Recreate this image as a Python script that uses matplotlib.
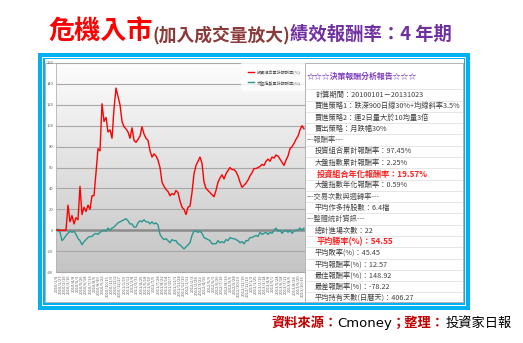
import matplotlib
matplotlib.use("Agg")
import matplotlib.pyplot as plt
from matplotlib.patches import Rectangle
import numpy as np
import pandas as pd

plt.rcParams['font.family'] = ['Noto Sans CJK TC', 'DejaVu Sans']

# cumulative return (%) of the portfolio and of the index, 2010/01/04 ~ 2013/10/23
port = [0, 0, 0, 0, 0, 0, 24, 8, 14, 6, 12, 10, 42, 15, 22, 18, 24, 20, 33, 33,
        55, 78, 76, 121, 104, 108, 94, 96, 88, 116, 136, 128, 120, 104, 99, 97, 94, 88, 98, 86,
        84, 87, 90, 99, 92, 88, 86, 76, 70, 73, 71, 67, 60, 46, 42, 39, 37, 33, 35, 34,
        38, 36, 28, 22, 20, 15, 22, 23, 36, 54, 62, 66, 70, 64, 46, 40, 38, 36, 34, 32,
        38, 46, 50, 53, 49, 54, 57, 60, 58, 58, 56, 52, 46, 41, 43, 45, 48, 52, 55, 59,
        59, 60, 61, 63, 62, 66, 68, 66, 70, 69, 72, 71, 68, 65, 62, 67, 71, 78, 80, 83,
        87, 90, 96, 100, 97]
index = [0, 1, -2, -10, -8, -5, -3, -1, -2, -1, -4, -8, -10, -14, -11, -9, -7, -6, -6, -4,
         -3, -4, -2, -1, 0, -1, 2, 0, 2, 3, 5, 7, 8, 9, 10, 11, 9, 6, 6, 3,
         3, 7, 9, 8, 10, 8, 8, 6, 8, 6, 7, 5, -4, -7, -9, -8, -10, -12, -9, -10,
         -10, -13, -14, -16, -18, -16, -14, -12, -5, -1, -1, -2, -1, -3, -7, -8, -9, -10, -13, -13,
         -13, -10, -12, -11, -12, -9, -10, -7, -8, -8, -9, -10, -12, -11, -13, -10, -10, -7, -7, -6,
         -5, -6, -2, -4, -3, -2, -4, -2, -3, 0, 2, -1, 0, -3, -1, 0, -2, 0, -3, -1,
         0, 0, 2, 0, 2]
yticks = [160, 140, 120, 100, 80, 60, 40, 20, 0, -20, -40]
legend_labels = ['投資組合累計報酬率(%)', '大盤指數累計報酬率(%)']

report_title = '☆☆☆決策報酬分析報告☆☆☆'
report_rows = [
    ('計算期間：20100101－20131023', 'n'),
    ('買進策略1：跌深900日線30%+均線斜率3.5%', 'n'),
    ('買進策略2：連2日量大於10均量3倍', 'n'),
    ('賣出策略：月跌幅30%', 'n'),
    ('---報酬率---', 's'),
    ('投資組合累計報酬率：97.45%', 'n'),
    ('大盤指數累計報酬率：2.25%', 'n'),
    ('投資組合年化報酬率：19.57%', 'h'),
    ('大盤指數年化報酬率：0.59%', 'n'),
    ('---交易次數與週轉率---', 's'),
    ('平均作多持股數：6.4檔', 'n'),
    ('---整體統計資訊---', 's'),
    ('總計進場次數：22', 'n'),
    ('平均勝率(%)：54.55', 'h'),
    ('平均敗率(%)：45.45', 'n'),
    ('平均報酬率(%)：12.57', 'n'),
    ('最佳報酬率(%)：148.92', 'n'),
    ('最差報酬率(%)：-78.22', 'n'),
    ('平均持有天數(日曆天)：406.27', 'n'),
]

W, H = 523, 343
BLUE = '#00b0f0'
fig = plt.figure(figsize=(W / 100, H / 100), dpi=100)
fig.patch.set_facecolor('white')

bg = fig.add_axes([0, 0, 1, 1], zorder=0)
bg.set_xlim(0, W)
bg.set_ylim(H, 0)
bg.axis('off')

# blue double frame
bg.add_patch(Rectangle((38, 52.5), 432, 257, fc=BLUE, ec='none'))
bg.add_patch(Rectangle((42, 56.5), 424, 249, fc='white', ec='none'))
bg.add_patch(Rectangle((43, 57.5), 422, 247, fc=BLUE, ec='none'))
bg.add_patch(Rectangle((44.5, 59), 419, 244, fc='white', ec='none'))
bg.add_patch(Rectangle((44.5, 63), 418.5, 239, fc='none', ec='#b4b4b4', lw=0.7))

rend = fig.canvas.get_renderer()


def text_run(x, y, parts, **kw):
    for s, props in parts:
        t = bg.text(x, y, s, **kw, **props)
        x += t.get_window_extent(renderer=rend).width
    return x


text_run(48, 40, [
    ('危機入市', dict(color='#ff0000', fontsize=18.8, fontweight='bold')),
    ('(加入成交量放大)', dict(color='#8b3a3a', fontsize=12.8, fontweight='bold')),
    ('績效報酬率：4 年期', dict(color='#7030a0', fontsize=13.2, fontweight='bold')),
], va='baseline', ha='left')

text_run(271, 323, [
    ('資料來源：', dict(color='#c00000', fontweight='bold')),
    ('Cmoney', dict(color='black', family=['DejaVu Sans'])),
    ('；整理：', dict(color='#c00000', fontweight='bold')),
    ('投資家日報', dict(color='black')),
], va='center', ha='left', fontsize=9.5)

# chart
L, R, T, B = 56, 305, 63, 272
ax = fig.add_axes([L / W, 1 - B / H, (R - L) / W, (B - T) / H], zorder=1)
ax.set_xlim(0, len(port) - 0.5)
ax.set_ylim(-40, 160)
grad = np.linspace(0, 1, 256).reshape(-1, 1)
ax.imshow(grad, extent=[0, len(port) - 0.5, -40, 160], aspect='auto',
          cmap=matplotlib.colors.LinearSegmentedColormap.from_list(
              'g', ['#fdfdfd', '#c4c4c4']), origin='upper', zorder=0)
for yv in yticks:
    if yv == 0:
        ax.axhline(yv, color='#8c8c8c', lw=1.8, zorder=1)
    else:
        ax.axhline(yv, color='#a8a8a8', lw=0.8, zorder=1)

x = np.arange(len(port))
ax.plot(x, index, color='#2a9890', lw=1.0, zorder=3, label=legend_labels[1])
ax.plot(x, port, color='#ff0000', lw=1.0, zorder=4, label=legend_labels[0])

ax.set_yticks(yticks)
ax.set_yticklabels([str(v) for v in yticks], fontsize=3, color='#606060')
ax.tick_params(axis='y', length=0, pad=2)

days = pd.bdate_range('2010-01-04', '2013-10-23')
pick = np.arange(0, len(days), 17)
ax.set_xticks(pick * (len(port) - 1) / (len(days) - 1))
ax.set_xticklabels([f'{d.year}/{d.month}/{d.day}' for d in days[pick]],
                   rotation=90, fontsize=3, color='#606060')
ax.tick_params(axis='x', length=0, pad=2)
for s in ['top', 'right']:
    ax.spines[s].set_visible(False)
ax.spines['left'].set_color('#b4b4b4')
ax.spines['left'].set_linewidth(0.6)
ax.spines['bottom'].set_color('#a8a8a8')
ax.spines['bottom'].set_linewidth(0.8)

h, lab = ax.get_legend_handles_labels()
leg = ax.legend(h[::-1], lab[::-1], loc='upper left', bbox_to_anchor=(0.743, 1.0),
                fontsize=3, frameon=True, handlelength=1.6, handletextpad=0.6,
                labelspacing=1.3, borderpad=1.6, borderaxespad=0, fancybox=False)
leg.get_frame().set_facecolor('white')
leg.get_frame().set_edgecolor('none')
leg.set_zorder(5)
for t in leg.get_texts():
    t.set_color('#505050')
for ln in leg.get_lines():
    ln.set_linewidth(1.0)

# report panel on the right
top = fig.add_axes([0, 0, 1, 1], zorder=3)
top.set_xlim(0, W)
top.set_ylim(H, 0)
top.axis('off')
top.patch.set_alpha(0)
top.add_patch(Rectangle((305, 63), 158, 239, fc='white', ec='#b4b4b4', lw=0.7))
top.text(307, 76, report_title, color='#7f3fbf', fontsize=5.7, fontweight='bold',
         va='center', ha='left')
step = 11.28
for i, (s, kind) in enumerate(report_rows):
    y = 95 + i * step
    top.plot([306, 462], [y - step / 2, y - step / 2], color='#e2e2e2', lw=0.6)
    if kind == 'h':
        top.text(317, y, s, color='#ff2020', fontsize=5.9, fontweight='bold',
                 va='center', ha='left')
    elif kind == 's':
        top.text(307, y, s, color='#505050', fontsize=5.2, va='center', ha='left')
    else:
        top.text(315, y, s, color='#404040', fontsize=5.2, va='center', ha='left')

fig.savefig('out.png', dpi=100)
